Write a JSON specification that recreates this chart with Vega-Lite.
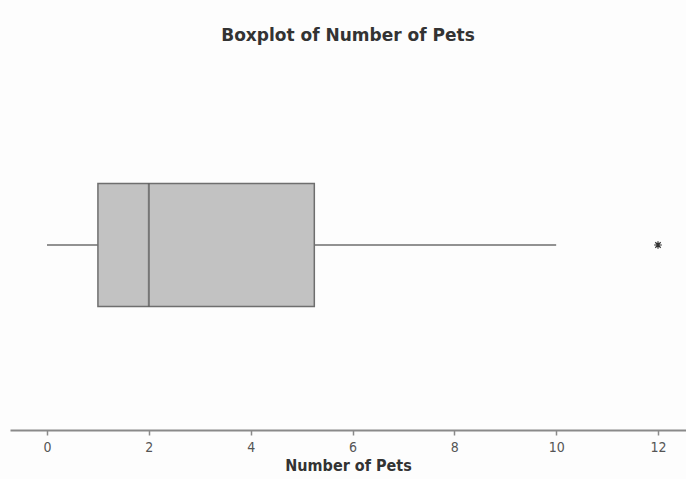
{
  "$schema": "https://vega.github.io/schema/vega-lite/v6.json",
  "autosize": {"type": "none"},
  "width": 676,
  "height": 370,
  "padding": {"left": 10, "right": 0, "top": 60, "bottom": 49},
  "background": "#fdfdfd",
  "config": {"view": {"stroke": null}},
  "title": {
    "text": "Boxplot of Number of Pets",
    "font": "DejaVu Sans",
    "fontSize": 17,
    "fontWeight": "bold",
    "color": "#333333",
    "anchor": "middle",
    "offset": 15
  },
  "datasets": {
    "summary": [{"group": "Pets", "min": 0, "q1": 1, "median": 2, "q3": 5.25, "max": 10}],
    "outliers": [{"group": "Pets", "value": 12}]
  },
  "encoding": {
    "y": {"field": "group", "type": "nominal", "axis": null}
  },
  "layer": [
    {
      "data": {"name": "summary"},
      "mark": {"type": "rule", "color": "#6e6e6e", "strokeWidth": 1.5},
      "encoding": {
        "x": {
          "field": "min",
          "type": "quantitative",
          "scale": {"domain": [-0.727, 12.55], "nice": false, "zero": false},
          "axis": {
            "values": [0, 2, 4, 6, 8, 10, 12],
            "grid": false,
            "domainColor": "#8a8a8a",
            "domainWidth": 2,
            "tickColor": "#8a8a8a",
            "tickSize": 5,
            "tickWidth": 1.5,
            "labelColor": "#555555",
            "labelFont": "DejaVu Sans Condensed",
            "labelFontSize": 14,
            "labelPadding": 5,
            "title": "Number of Pets",
            "titleFont": "DejaVu Sans Condensed",
            "titleFontSize": 16,
            "titleFontWeight": "bold",
            "titleColor": "#333333",
            "titlePadding": 3
          }
        },
        "x2": {"field": "max"}
      }
    },
    {
      "data": {"name": "summary"},
      "mark": {"type": "bar", "size": 123, "fill": "#c2c2c2", "stroke": "#6e6e6e", "strokeWidth": 1.5},
      "encoding": {
        "x": {"field": "q1", "type": "quantitative"},
        "x2": {"field": "q3"}
      }
    },
    {
      "data": {"name": "summary"},
      "mark": {"type": "tick", "size": 123, "thickness": 2, "color": "#555555", "orient": "vertical"},
      "encoding": {
        "x": {"field": "median", "type": "quantitative"}
      }
    },
    {
      "data": {"name": "outliers"},
      "mark": {"type": "point", "shape": "M-1,0L1,0M0,-1L0,1M-0.7,-0.7L0.7,0.7M-0.7,0.7L0.7,-0.7", "filled": false, "size": 60, "stroke": "#333333", "strokeWidth": 1.2, "opacity": 1},
      "encoding": {
        "x": {"field": "value", "type": "quantitative"}
      }
    }
  ]
}
